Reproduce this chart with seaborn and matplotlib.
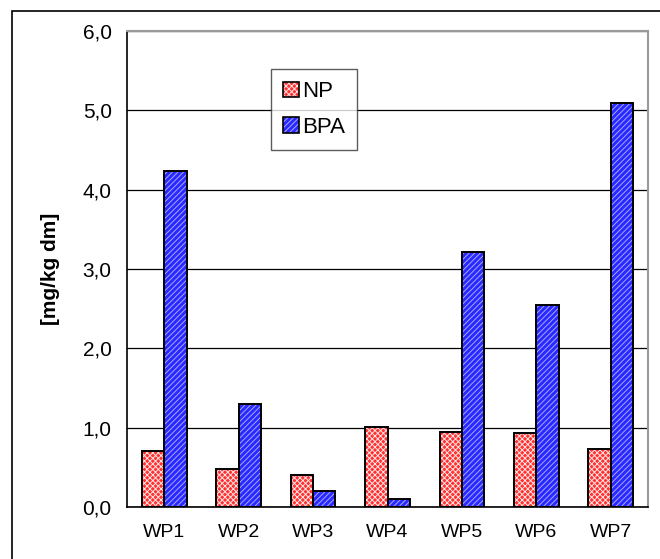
import matplotlib
matplotlib.use("Agg")
import matplotlib.pyplot as plt
from matplotlib.patches import Rectangle, Patch
from matplotlib.ticker import FuncFormatter, FixedLocator
import numpy as np
import pandas as pd
import seaborn as sns

# data
sites = ["WP1", "WP2", "WP3", "WP4", "WP5", "WP6", "WP7"]
np_vals = [0.70, 0.48, 0.40, 1.01, 0.95, 0.93, 0.73]
bpa_vals = [4.23, 1.30, 0.20, 0.10, 3.22, 2.54, 5.09]
series = ["NP", "BPA"]
y_ticks = [0, 1, 2, 3, 4, 5, 6]

df = pd.DataFrame({
    "site": sites * 2,
    "compound": ["NP"] * len(sites) + ["BPA"] * len(sites),
    "value": np_vals + bpa_vals,
})

sns.set_theme(style="white")
plt.rcParams["font.family"] = ["Liberation Sans", "DejaVu Sans"]
plt.rcParams["hatch.linewidth"] = 0.7
plt.rcParams["text.color"] = "black"
plt.rcParams["xtick.color"] = "black"
plt.rcParams["ytick.color"] = "black"
plt.rcParams["axes.labelcolor"] = "black"

face = {"NP": "#ff3030", "BPA": "#2828ff"}
hcol = {"NP": "#ffe4e4", "BPA": "#a8a8ff"}
hatch = {"NP": "xxxxxx", "BPA": "//////"}

fig = plt.figure(figsize=(6.6, 5.59), dpi=100)
ax = fig.add_axes([127 / 660, 1 - 507 / 559, 521 / 660, 476 / 559])

sns.barplot(data=df, x="site", y="value", hue="compound", hue_order=series,
            order=sites, width=0.6, gap=0, legend=False, ax=ax, zorder=3)

# style bars: hatched fill, then black outline on top
n = len(sites)
for i, p in enumerate(ax.patches[:2 * n]):
    key = series[i // n]
    p.set_facecolor(face[key])
    p.set_edgecolor(hcol[key])
    p.set_linewidth(0)
    p.set_hatch(hatch[key])
    ax.add_patch(Rectangle((p.get_x(), p.get_y()), p.get_width(), p.get_height(),
                           fill=False, edgecolor="black", linewidth=1.4, zorder=4))

ax.set_ylim(0, 6)
ax.set_xlim(-0.5, n - 0.5)
ax.yaxis.set_major_locator(FixedLocator(y_ticks))
ax.yaxis.set_major_formatter(FuncFormatter(lambda v, _: f"{v:.1f}".replace(".", ",")))
ax.grid(axis="y", color="black", linewidth=0.9, zorder=0)
ax.set_axisbelow(True)

ax.set_xlabel("")
ax.set_ylabel("[mg/kg dm]", fontsize=15, fontweight="bold", labelpad=16)

ax.tick_params(axis="y", which="major", length=0, pad=11, labelsize=15)
ax.tick_params(axis="x", which="major", length=0, pad=12, labelsize=14)
ax.xaxis.set_minor_locator(FixedLocator(np.arange(0.5, n - 1, 1.0)))
ax.tick_params(axis="x", which="minor", direction="in", length=6, width=1, color="#404040")

for side in ["left", "bottom"]:
    ax.spines[side].set_color("black")
    ax.spines[side].set_linewidth(1.2)
for side in ["top", "right"]:
    ax.spines[side].set_color("#9a9a9a")
    ax.spines[side].set_linewidth(1.5)

# legend keys: hatched square overlaid with a black outline
handles = [(Patch(facecolor=face[s], edgecolor=hcol[s], hatch=hatch[s], linewidth=0),
            Patch(fill=False, edgecolor="black", linewidth=1.2)) for s in series]
leg = ax.legend(handles, series, loc="upper left", bbox_to_anchor=(0.276, 0.92),
                fontsize=16, frameon=True, fancybox=False, handlelength=0.7,
                handleheight=0.7, handletextpad=0.15, labelspacing=0.65,
                borderpad=0.55, borderaxespad=0)
leg.get_frame().set_edgecolor("#333333")
leg.get_frame().set_linewidth(1.0)
leg.set_zorder(5)

# outer chart frame (runs off the right and bottom edges)
fig.patches.append(Rectangle((12 / 660, -0.1), 1.2, 1 - 11 / 559 + 0.1,
                             transform=fig.transFigure, fill=False,
                             edgecolor="black", linewidth=1.2))

fig.savefig("out.png", dpi=100)
